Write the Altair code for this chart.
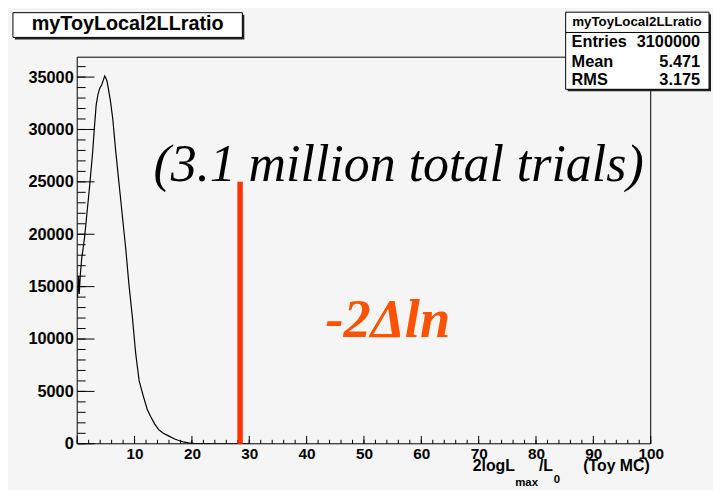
import altair as alt
import pandas as pd

# ---------------- data ----------------
hist_x = [0.05, 0.25, 0.35, 0.55, 0.8, 1.0, 1.3, 1.7, 2.2, 2.7, 3.0, 3.3, 3.6, 3.9, 4.3,
          4.6, 4.8, 5.0, 5.2, 5.4, 5.8, 6.2, 6.7, 7.3, 7.9, 8.5, 9.0, 9.6, 10.2, 10.8,
          11.5, 12.2, 12.8, 13.5, 14.2, 15.0, 16.0, 17.0, 17.7, 18.5, 19.4, 20.5, 22.0, 25.0, 30.0]
hist_y = [14000, 16000, 14300, 16200, 17800, 18500, 19800, 22000, 24800, 27900, 30200, 32300,
          33300, 33900, 34300, 34800, 35100, 34900, 34600, 34000, 32700, 31000, 28000, 24800,
          21600, 18400, 15300, 12200, 8600, 6000, 4600, 3300, 2600, 1900, 1350, 1000, 730, 450,
          310, 180, 90, 30, 8, 0, 0]

y_major = [0, 5000, 10000, 15000, 20000, 25000, 30000, 35000]
y_minor = list(range(0, 36001, 1000))
x_major = list(range(0, 101, 10))
x_minor = list(range(0, 101, 2))
x_labels = [10, 20, 30, 40, 50, 60, 70, 80, 90, 100]

cut_x = [28.4]
cut_top = [25000]

title_text = ["myToyLocal2LLratio"]
stat_names = ["Entries", "Mean", "RMS"]
stat_values = ["3100000", "5.471", "3.175"]
note_text = ["(3.1 million total trials)"]
cut_label = ["-2\u0394ln"]
xtitle_parts = ["2logL", "max", "/L", "0", "(Toy MC)"]

# ---------------- layout ----------------
W, H = 580, 391
SANS = "Liberation Sans"
SERIF = "Liberation Serif"
BG = "#f5f5f5"

xs = alt.Scale(domain=[0, 100], nice=False, zero=False)
ys = alt.Scale(domain=[0, 36900], nice=False, zero=False)

XAXIS = alt.Axis(
    values=x_labels, title=None, tickSize=0, domain=False, grid=False,
    labelFont=SANS, labelFontSize=15.5, labelFontWeight="bold", labelColor="black",
    labelPadding=3, format="d", labelOverlap=False, labelFlush=False)
YAXIS = alt.Axis(
    values=y_major, title=None, tickSize=0, domain=False, grid=False,
    labelFont=SANS, labelFontSize=16.5, labelFontWeight="bold", labelColor="black",
    labelPadding=4, format="d", labelOverlap=False, labelFlush=False)


def XE(field):
    return alt.X(field, scale=xs, axis=XAXIS)


def YE(field):
    return alt.Y(field, scale=ys, axis=YAXIS)


def one(v):
    return pd.DataFrame({"t": [v]})


def text_layer(txt, x, y, size, align="left", weight="bold", style="normal",
               font=SANS, color="black"):
    return alt.Chart(one(txt)).mark_text(
        align=align, baseline="alphabetic", font=font, fontSize=size,
        fontWeight=weight, fontStyle=style, color=color
    ).encode(x=alt.value(x), y=alt.value(y), text="t:N")


def box_layer(x0, x1, y0, y1, fill, stroke=None, sw=1):
    kw = dict(fill=fill)
    if stroke:
        kw.update(stroke=stroke, strokeWidth=sw)
    return alt.Chart(one("")).mark_rect(**kw).encode(
        x=alt.value(x0), x2=alt.value(x1), y=alt.value(y0), y2=alt.value(y1))


hist = alt.Chart(pd.DataFrame({"x": hist_x, "y": hist_y})).mark_line(
    color="black", strokeWidth=1.2, clip=True
).encode(x=XE("x:Q"), y=YE("y:Q"))

frame = alt.Chart(one("")).mark_rect(fillOpacity=0, stroke="black", strokeWidth=1).encode(
    x=alt.value(0), x2=alt.value(W), y=alt.value(0), y2=alt.value(H))

ymaj = alt.Chart(pd.DataFrame({"v": y_major})).mark_rule(color="black", strokeWidth=1).encode(
    y=YE("v:Q"), x=alt.value(0), x2=alt.value(17.5))
ymin = alt.Chart(pd.DataFrame({"v": y_minor})).mark_rule(color="black", strokeWidth=1).encode(
    y=YE("v:Q"), x=alt.value(0), x2=alt.value(8.5))
xmaj = alt.Chart(pd.DataFrame({"v": x_major})).mark_rule(color="black", strokeWidth=1).encode(
    x=XE("v:Q"), y=alt.value(H), y2=alt.value(H - 8))
xmin = alt.Chart(pd.DataFrame({"v": x_minor})).mark_rule(color="black", strokeWidth=1).encode(
    x=XE("v:Q"), y=alt.value(H), y2=alt.value(H - 4))

cut = alt.Chart(pd.DataFrame({"x": cut_x, "y0": [0], "y1": cut_top})).mark_rule(
    color="#ff3300", strokeWidth=5.5
).encode(x=XE("x:Q"), y=YE("y0:Q"), y2="y1:Q")

note = alt.Chart(pd.DataFrame({"t": note_text})).mark_text(
    align="center", baseline="alphabetic", font=SERIF, fontSize=52.5,
    fontStyle="italic", color="black"
).encode(x=alt.value(325), y=alt.value(125), text="t:N")

cutlab = alt.Chart(pd.DataFrame({"t": cut_label})).mark_text(
    align="left", baseline="alphabetic", font=SERIF, fontSize=55,
    fontStyle="italic", fontWeight="bold", color="#ff5200"
).encode(x=alt.value(251), y=alt.value(283), text="t:N")

# title box
tshadow = box_layer(-63, 169, -43, -18, "#222222")
tbox = box_layer(-65, 167, -45, -20, "white", "black")
ttext = text_layer(title_text[0], 51, -27, 20, align="center")

# stats box
sshadow = box_layer(496, 641, -43.5, 34.5, "#222222")
sbox = box_layer(494, 639, -45.5, 32.5, "white", "black")
ssep = alt.Chart(one("")).mark_rule(color="black", strokeWidth=1).encode(
    x=alt.value(494), x2=alt.value(639), y=alt.value(-25), y2=alt.value(-25))
shead = text_layer(title_text[0], 566, -32, 13.5, align="center")
rows_y = [-10, 10, 28]
stat_layers = []
for name, val, yy in zip(stat_names, stat_values, rows_y):
    stat_layers.append(text_layer(name, 500, yy, 16.5))
    stat_layers.append(text_layer(val, 630, yy, 16.5, align="right"))

# x axis title with subscripts
xt = [
    text_layer(xtitle_parts[0], 400, 419, 16),
    text_layer(xtitle_parts[1], 443, 434, 11.5),
    text_layer(xtitle_parts[2], 467, 419, 16),
    text_layer(xtitle_parts[3], 482, 431, 11.5),
    text_layer(xtitle_parts[4], 579, 419, 16, align="right"),
]

chart = alt.layer(
    hist, frame, ymin, ymaj, xmin, xmaj, cut, note, cutlab,
    tshadow, tbox, ttext, sshadow, sbox, ssep, shead, *stat_layers, *xt
).properties(
    width=W, height=H,
    padding={"left": 70, "top": 47, "right": 63, "bottom": 44},
    autosize=alt.AutoSizeParams(type="none"),
    background=BG,
).configure_view(stroke=None)

chart.save("out.html", embed_options={"renderer": "svg", "actions": False})
